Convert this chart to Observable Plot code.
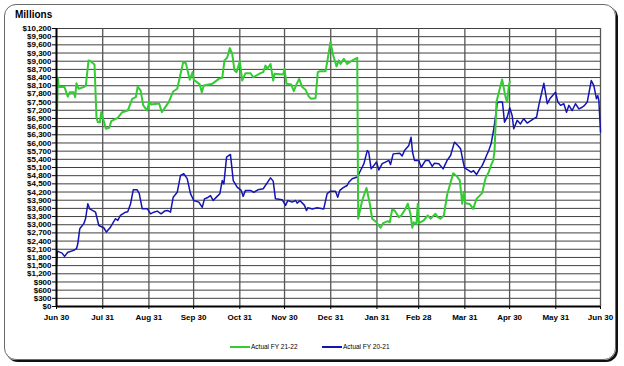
<!DOCTYPE html>
<html>
<head>
<meta charset="utf-8">
<script src="https://cdn.jsdelivr.net/npm/d3@7"></script>
<script src="https://cdn.jsdelivr.net/npm/@observablehq/plot@0.6"></script>
<style>
  html, body { margin: 0; padding: 0; background: #fff; }
  #wrap { position: relative; width: 624px; height: 366px; font-family: "Liberation Sans", Arial, sans-serif; overflow: hidden; }
  #card { position: absolute; left: 4px; top: 4px; width: 612px; height: 356px; border: 1.5px solid #6a6a6a; border-radius: 12px; box-shadow: 2px 2px 0 #111; box-sizing: border-box; }
  #title { position: absolute; left: 15px; top: 9px; font-size: 10px; font-weight: bold; color: #000; }
  #chart { position: absolute; left: 0; top: 0; }
  .leg { position: absolute; top: 343px; font-size: 6.5px; color: #000; white-space: nowrap; display: flex; align-items: center; }
  .leg span.sw { display: inline-block; width: 20px; height: 2px; margin-right: 1px; }
</style>
</head>
<body>
<div id="wrap">
  <div id="card"></div>
  <div id="title">Millions</div>
  <div id="chart"></div>
  <div class="leg" style="left:230px"><span class="sw" style="background:#33CC33"></span>Actual FY 21-22</div>
  <div class="leg" style="left:322px"><span class="sw" style="background:#1414B4"></span>Actual FY 20-21</div>
</div>
<script>
// x positions: days since Jun 30 (fiscal-year day), y: millions of dollars
const tickDays = [0, 31, 62, 92, 123, 153, 184, 215, 243, 274, 304, 335, 365];
const tickLabels = ["Jun 30", "Jul 31", "Aug 31", "Sep 30", "Oct 31", "Nov 30", "Dec 31", "Jan 31", "Feb 28", "Mar 31", "Apr 30", "May 31", "Jun 30"];
const yTicks = d3.range(0, 10201, 300);

const seriesNames = ["Actual FY 21-22", "Actual FY 20-21"];

const fy2122Day = [0, 0.9, 1.5, 5.4, 7.6, 8.9, 11.6, 12.5, 13.4, 14.8, 18.3, 19.7, 21.5, 22.8, 25.5, 26.8, 27.7, 29.1, 30, 31.3,
  33.1, 35.4, 36.7, 41.1, 44.1, 47.8, 50.8, 53.2, 54.5, 56.4, 58.2, 60.9, 62.2, 63.5, 67.1, 68.9, 70.7, 75.3, 78.3, 81,
  85, 86.8, 89.4, 91.3, 92.1, 96.1, 97.5, 98.8, 104.5, 108.9, 111.2, 112.7, 114.5, 116.3, 117.9, 119.4, 120.8, 123, 124.6, 126.8,
  130.2, 132, 136.9, 138.7, 140.2, 141.4, 143.6, 145.4, 146.3, 152.1, 153, 154.3, 157.5, 159.2, 161, 162.8, 164.9, 167.1, 169.3, 170.9,
  173.8, 175.3, 176.7, 180.5, 181.6, 183.8, 185.7, 187.9, 189.4, 190.6, 192.8, 195, 197.7, 199.1, 201.8, 202.4, 205.1, 208, 210.2, 211.8,
  214.7, 217.4, 219.2, 222.3, 223.6, 225.2, 226.8, 229.7, 231.3, 233.5, 235.7, 237.5, 238.7, 239.7, 241.5, 242.4, 243.1, 246.4, 249.1, 250.9,
  254.3, 255.8, 257.6, 259.9, 262.1, 264.8, 266.2, 268.4, 270.6, 272.2, 273.3, 274.4, 277.3, 279.6, 281.8, 285.6, 287.8, 290, 291.6, 293,
  293.9, 295.2, 297.4, 299, 301.3, 302.4, 303.5, 304.2];
const fy2122Value = [6300, 8400, 8050, 8050, 7700, 7860, 7860, 7680, 8190, 7990, 8050, 8110, 9030, 9000, 8880, 6950, 6760, 6760, 7130, 6890,
  6520, 6560, 6800, 6920, 7130, 7190, 7620, 7680, 8070, 7930, 7380, 7190, 7530, 7410, 7440, 7440, 7130, 7500, 7890, 7990,
  8960, 8930, 8320, 8600, 8320, 8150, 7860, 8110, 8170, 8350, 8390, 9030, 9125, 9480, 9270, 8660, 8600, 9000, 8290, 8560,
  8560, 8410, 8560, 8600, 8840, 8720, 8900, 8290, 8540, 8510, 8720, 8170, 8150, 7900, 8150, 8350, 8050, 7950, 7700, 7620,
  7640, 8600, 8630, 8630, 8960, 9700, 9210, 8810, 9030, 8900, 9090, 8900, 9000, 9050, 9125, 3220, 3890, 4350, 3770, 3220,
  3090, 2890, 3060, 3130, 3090, 3550, 3520, 3280, 3340, 3520, 3770, 3400, 2890, 3090, 3030, 3770, 3060, 3160, 3340, 3220,
  3400, 3280, 3220, 3340, 4100, 4620, 4890, 4790, 4630, 3770, 4200, 3790, 3760, 3580, 3950, 4160, 4700, 4930, 5190, 5360,
  5700, 7500, 7990, 8330, 7680, 7500, 8110, 8250];

const fy2021Day = [0, 0.5, 3.8, 5.4, 7.6, 11.6, 13.4, 14.3, 15.6, 18.3, 19.5, 21, 22.3, 26.2, 28.4, 31.7, 33.5, 36.2, 39.6, 41.1,
  42.9, 46.3, 47.8, 49.7, 51.5, 54.1, 55.5, 57.5, 60.9, 63.1, 65.3, 67.6, 70.2, 72.5, 74.7, 76.5, 78.3, 81, 83.2, 85.4,
  87.7, 89.9, 92.1, 95.5, 97.8, 99.3, 101.1, 103.3, 105.1, 107.8, 109.6, 111.2, 112.3, 114.1, 116.7, 118.6, 121.2, 123.9, 125.2, 126.8,
  130.2, 132.4, 135.1, 138.7, 143.6, 145.4, 146.9, 151.4, 153.7, 155.2, 158.1, 160.4, 161.5, 163.3, 166.4, 167.7, 168.6, 171.6, 174.9, 179.3,
  181.6, 183.8, 187.2, 188.7, 190.1, 192.4, 195, 196.1, 198.4, 201.8, 204, 206.2, 208.5, 209.5, 211.1, 212.9, 214.7, 216.3, 218.5, 220.7,
  223, 224.1, 225.9, 230.3, 231.9, 233.5, 236.4, 237.9, 238.9, 240.2, 243.1, 244.7, 247.6, 249.8, 252.1, 253.6, 256.5, 259.4, 262.1, 264.4,
  267, 269.3, 271.1, 272.9, 273.8, 276, 278.2, 279.8, 281.8, 284, 285.6, 287.2, 288.5, 290, 291.6, 293.4, 294.5, 295.7, 296.7, 299.2,
  300.6, 302.4, 304.1, 305.7, 306.8, 309.1, 311.3, 313.5, 315.8, 320.3, 322.1, 323.6, 327, 329.3, 331, 334.8, 336.4, 338.2, 340.4, 342.2,
  343.8, 346, 348.2, 350.5, 352.7, 354.3, 356.1, 358.8, 360.5, 362.3, 363.2, 363.9, 365];
const fy2021Value = [1500, 2030, 1960, 1840, 1990, 2060, 2120, 2300, 2850, 3040, 3220, 3770, 3580, 3460, 2970, 2890, 2730, 2910, 3220, 3160,
  3340, 3460, 3480, 3770, 4280, 4280, 4150, 3590, 3590, 3400, 3460, 3500, 3400, 3500, 3520, 3460, 4010, 4190, 4810, 4870,
  4690, 4140, 3890, 3830, 3640, 3950, 3990, 4070, 3890, 4040, 4140, 4620, 4500, 5480, 5580, 4620, 4380, 4260, 4040, 4260,
  4260, 4190, 4280, 4320, 4720, 4600, 3950, 3920, 3710, 3890, 3830, 3890, 3790, 3890, 3710, 3520, 3620, 3580, 3620, 3580,
  4140, 4230, 4230, 4010, 4260, 4360, 4440, 4560, 4690, 4750, 4990, 5230, 5720, 5660, 5050, 5170, 5300, 5010, 5240, 5300,
  5360, 5210, 5600, 5620, 5520, 5720, 5910, 6210, 5660, 5360, 5360, 5110, 5360, 5360, 5140, 5260, 5240, 5050, 5360, 5540,
  6030, 5910, 5790, 5300, 5090, 5010, 4930, 4980, 4840, 5050, 5170, 5360, 5540, 5720, 5970, 6520, 6950, 7460, 7500, 7500,
  6760, 6950, 7290, 7010, 6520, 6830, 6700, 6890, 6730, 6890, 6950, 7380, 8190, 7440, 7620, 7860, 7500, 7380, 7440, 7130,
  7380, 7190, 7440, 7250, 7310, 7380, 7500, 8290, 8110, 7620, 7740, 7550, 6400];

const seriesColors = ["#33CC33", "#1414B4"];

const green = fy2122Day.map((d, i) => ({day: d, value: fy2122Value[i], series: seriesNames[0]}));
const blue = fy2021Day.map((d, i) => ({day: d, value: fy2021Value[i], series: seriesNames[1]}));

const fmt = d3.format(",");
const chart = Plot.plot({
  width: 624,
  height: 330,
  marginLeft: 56,
  marginRight: 24,
  marginTop: 28,
  marginBottom: 24,
  style: {fontFamily: "'Liberation Sans', Arial, sans-serif", fontSize: "8px", background: "transparent", color: "#000", overflow: "visible"},
  x: {type: "linear", domain: [0, 365]},
  y: {domain: [0, 10200]},
  marks: [
    Plot.ruleY(yTicks.slice(1), {stroke: "#404040", strokeWidth: 1}),
    Plot.ruleX(tickDays.slice(1), {stroke: "#555", strokeWidth: 1.3}),
    Plot.lineY(blue, {x: "day", y: "value", stroke: seriesColors[1], strokeWidth: 1.5}),
    Plot.lineY(green, {x: "day", y: "value", stroke: seriesColors[0], strokeWidth: 2}),
    Plot.ruleX([0], {stroke: "#000", strokeWidth: 2}),
    Plot.ruleY([0], {stroke: "#000", strokeWidth: 2}),
    Plot.axisY({ticks: yTicks, tickFormat: d => "$" + fmt(d), tickSize: 4, tickPadding: 1, fontWeight: "bold", fontSize: 8, label: null}),
    Plot.axisX({ticks: tickDays, tickFormat: (d) => tickLabels[tickDays.indexOf(d)], tickSize: 3, tickPadding: 5, fontWeight: "bold", fontSize: 8, label: null})
  ]
});
document.getElementById("chart").appendChild(chart);
</script>
</body>
</html>
